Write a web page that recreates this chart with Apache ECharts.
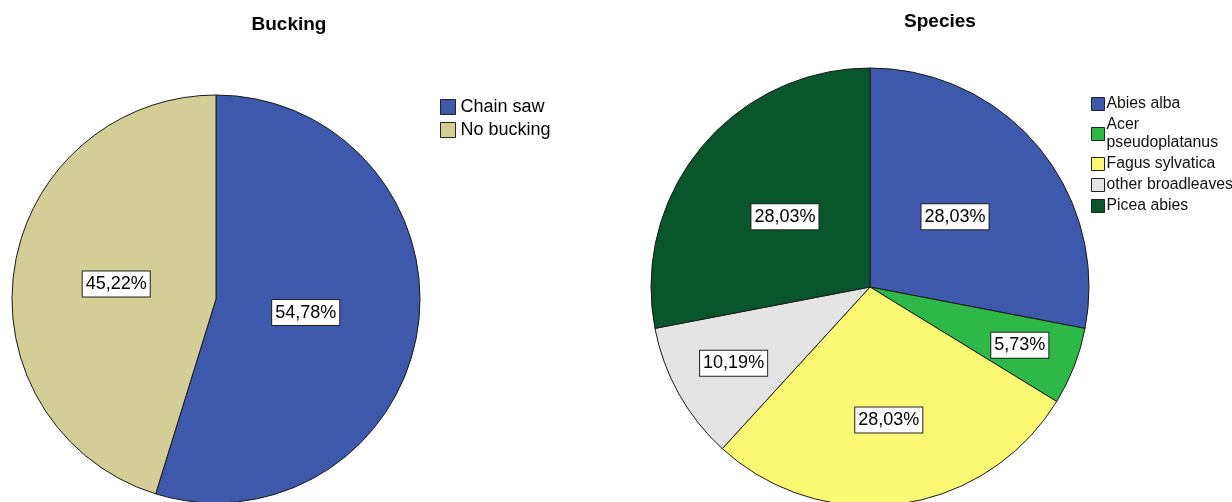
<!DOCTYPE html>
<html>
<head>
<meta charset="utf-8">
<script src="https://cdn.jsdelivr.net/npm/echarts@6/dist/echarts.min.js"></script>
<style>
  html, body { margin: 0; padding: 0; background: #fff; }
  #chart { width: 1232px; height: 502px; }
</style>
</head>
<body>
<div id="chart"></div>
<script>
// Bucking method shares (%)
const buckingNames = ['Chain saw', 'No bucking'];
const buckingValues = [54.78, 45.22];
const buckingColors = ['#3E58AC', '#D3CE97'];

// Tree species shares (%)
const speciesNames = ['Abies alba', 'Acer pseudoplatanus', 'Fagus sylvatica', 'other broadleaves', 'Picea abies'];
const speciesValues = [28.03, 5.73, 28.03, 10.19, 28.03];
const speciesColors = ['#3E58AC', '#2EB848', '#FBF873', '#E4E4E4', '#0A562C'];

// Radial position of each percentage label, as a fraction of the pie radius
const buckingLabelPos = [0.43, 0.48];
const speciesLabelPos = [0.49, 0.72, 0.60, 0.70, 0.49];

const FONT = "'Liberation Sans', Arial, sans-serif";

function fmtPct(v) {
  return v.toFixed(2).replace('.', ',') + '%';
}

function mainPie(center, radius, names, values, colors) {
  return {
    type: 'pie',
    center: center,
    radius: radius,
    startAngle: 90,
    clockwise: true,
    silent: true,
    label: { show: false },
    labelLine: { show: false },
    itemStyle: { borderColor: '#1a1a1a', borderWidth: 1 },
    emphasis: { disabled: true },
    data: names.map((n, i) => ({ name: n, value: values[i], itemStyle: { color: colors[i] } }))
  };
}

// Transparent ring whose "inside" label sits at frac * radius for the chosen slices
function labelPie(center, radius, names, values, positions, frac) {
  const r0 = frac >= 0.5 ? (2 * frac - 1) * radius : 0;
  const r1 = frac >= 0.5 ? radius : 2 * frac * radius;
  return {
    type: 'pie',
    center: center,
    radius: [r0, r1],
    startAngle: 90,
    clockwise: true,
    silent: true,
    legendHoverLink: false,
    avoidLabelOverlap: false,
    emphasis: { disabled: true },
    itemStyle: { color: 'rgba(0,0,0,0)', borderWidth: 0 },
    labelLine: { show: false },
    label: {
      show: true,
      position: 'inside',
      formatter: p => fmtPct(p.value),
      color: '#000',
      fontFamily: FONT,
      fontSize: 18,
      lineHeight: 20,
      backgroundColor: '#fff',
      borderColor: '#222',
      borderWidth: 1,
      padding: [3, 3, 2, 3]
    },
    data: names.map((n, i) => ({
      name: n,
      value: values[i],
      label: { show: positions[i] === frac }
    }))
  };
}

function labelPies(center, radius, names, values, positions) {
  const fracs = [...new Set(positions)];
  return fracs.map(f => labelPie(center, radius, names, values, positions, f));
}

const leftCenter = [216, 299];
const leftRadius = 204;
const rightCenter = [870, 287];
const rightRadius = 219;

const chart = echarts.init(document.getElementById('chart'), null, { renderer: 'canvas' });

chart.setOption({
  animation: false,
  backgroundColor: '#fff',
  title: [
    {
      text: 'Bucking', left: 289, top: 15, textAlign: 'center', padding: 0,
      textStyle: { fontFamily: FONT, fontWeight: 'bold', fontSize: 19, color: '#000' }
    },
    {
      text: 'Species', left: 940, top: 12, textAlign: 'center', padding: 0,
      textStyle: { fontFamily: FONT, fontWeight: 'bold', fontSize: 19, color: '#000' }
    }
  ],
  legend: [
    {
      orient: 'vertical', left: 440, top: 97, padding: 0,
      icon: 'rect', itemWidth: 15, itemHeight: 15, itemGap: 3,
      selectedMode: false,
      itemStyle: { borderColor: '#222', borderWidth: 1 },
      textStyle: { fontFamily: FONT, fontSize: 18, lineHeight: 20, color: '#000', padding: [0, 0, 0, 0] },
      data: buckingNames.map((n, i) => ({ name: n, itemStyle: { color: buckingColors[i] } }))
    },
    {
      orient: 'vertical', left: 1091, top: 95, padding: 0,
      icon: 'rect', itemWidth: 13, itemHeight: 13, itemGap: 3,
      selectedMode: false,
      itemStyle: { borderColor: '#222', borderWidth: 1 },
      textStyle: { fontFamily: FONT, fontSize: 15.8, lineHeight: 18, color: '#111', padding: [0, 0, 0, -3] },
      formatter: n => n === 'Acer pseudoplatanus' ? 'Acer\npseudoplatanus' : n,
      data: speciesNames.map((n, i) => ({ name: n, itemStyle: { color: speciesColors[i] } }))
    }
  ],
  series: [
    mainPie(leftCenter, leftRadius, buckingNames, buckingValues, buckingColors),
    mainPie(rightCenter, rightRadius, speciesNames, speciesValues, speciesColors),
    ...labelPies(leftCenter, leftRadius, buckingNames, buckingValues, buckingLabelPos),
    ...labelPies(rightCenter, rightRadius, speciesNames, speciesValues, speciesLabelPos)
  ]
});
</script>
</body>
</html>
